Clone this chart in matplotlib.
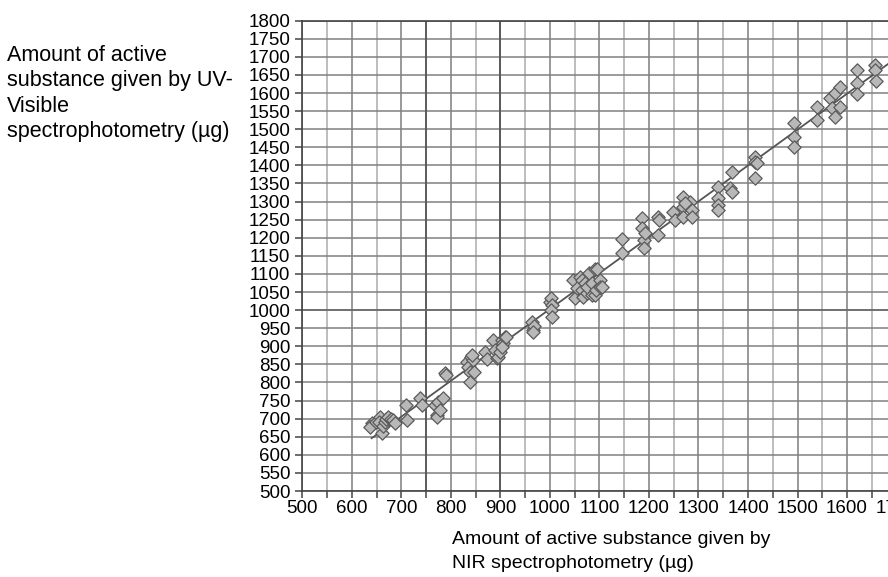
import numpy as np
import matplotlib.pyplot as plt
from matplotlib.ticker import MultipleLocator

plt.rcParams['font.family'] = ['Liberation Sans', 'DejaVu Sans']

# NIR result (x) vs UV-Visible result (y), in micrograms
nir = [640, 637, 648, 657, 655, 660, 663, 667, 670, 674, 680, 684, 687,
       710, 711, 738, 741, 768, 771, 773, 775, 778, 785, 788, 790,
       832, 835, 839, 841, 845, 838, 842, 847, 869, 872, 886, 889, 893,
       895, 900, 903, 906, 909, 903, 911,
       963, 965, 967, 966, 1000, 1003, 1004, 1003, 1005,
       1047, 1050, 1054, 1060, 1064, 1064, 1067, 1070, 1074, 1074, 1078,
       1084, 1084, 1091, 1091, 1094, 1095, 1101, 1101, 1105,
       1145, 1145, 1185, 1185, 1189, 1189, 1192, 1219, 1221, 1219, 1249,
       1253, 1269, 1269, 1269, 1283, 1286, 1286, 1273,
       1340, 1340, 1340, 1340, 1364, 1367, 1367, 1414, 1414, 1414, 1418,
       1492, 1492, 1493, 1540, 1540, 1566, 1576, 1586, 1569, 1586, 1576,
       1620, 1621, 1620, 1656, 1657, 1658]
uv = [687, 678, 692, 705, 690, 660, 680, 692, 700, 705, 700, 696, 687,
      738, 696, 756, 738, 738, 710, 705, 747, 724, 756, 827, 820,
      857, 844, 830, 871, 862, 802, 876, 830, 885, 866, 917, 890, 867,
      871, 885, 917, 908, 926, 899, 925,
      968, 945, 955, 940, 1023, 1033, 1014, 1000, 982,
      1083, 1033, 1060, 1092, 1056, 1083, 1037, 1075, 1046, 1065, 1102,
      1074, 1042, 1115, 1042, 1056, 1115, 1083, 1065, 1065,
      1196, 1157, 1254, 1228, 1194, 1171, 1212, 1258, 1250, 1208, 1272,
      1249, 1314, 1286, 1258, 1300, 1277, 1258, 1295,
      1341, 1309, 1290, 1277, 1337, 1327, 1382, 1424, 1410, 1364, 1406,
      1516, 1479, 1452, 1562, 1525, 1585, 1599, 1617, 1558, 1562, 1535,
      1664, 1627, 1597, 1677, 1664, 1634]

# regression line y = a*x + b
fit_slope = 0.992
fit_intercept = 11
fit_start = 640

x_ticks = list(range(500, 1800, 100))
y_ticks = list(range(500, 1850, 50))

fig = plt.figure(figsize=(8.88, 5.77), dpi=100)
ax = fig.add_axes([302.3 / 888, 1 - 491 / 577, 643.8 / 888, 470.3 / 577])

ax.set_xlim(500, 1800)
ax.set_ylim(500, 1800)

ax.xaxis.set_minor_locator(MultipleLocator(50))
ax.set_xticks(x_ticks)
ax.set_yticks(y_ticks)

ax.grid(True, which='major', axis='x', color='#7d7d7d', lw=1.1)
ax.grid(True, which='minor', axis='x', color='#ababab', lw=1.1)
ax.grid(True, which='major', axis='y', color='#808080', lw=1.1)
for v in (750, 900):
    ax.axvline(v, color='#555555', lw=1.3, zorder=0.6)
ax.axhline(1000, color='#6a6a6a', lw=1.2, zorder=0.6)
ax.set_axisbelow(True)

for side in ('top', 'left', 'bottom'):
    ax.spines[side].set_color('#444444')
    ax.spines[side].set_linewidth(1.2)
ax.spines['right'].set_visible(False)

ax.tick_params(axis='both', which='both', direction='out', length=5,
               width=1.1, color='#444444', labelsize=13.5, pad=1.5)
ax.tick_params(axis='y', pad=3.5)

xs = np.array([fit_start, 1800])
ax.plot(xs, fit_slope * xs + fit_intercept, color='#555555', lw=1.3, zorder=2)
ax.scatter(nir, uv, marker='D', s=46, facecolor='#b8b8b8',
           edgecolor='#5a5a5a', linewidths=0.9, zorder=3)

fig.text(7 / 888, 1 - 45 / 577,
         'Amount of active\nsubstance given by UV-\nVisible\nspectrophotometry (µg)',
         ha='left', va='top', fontsize=15.5, linespacing=1.28)
fig.text(452 / 888, 1 - 531 / 577,
         'Amount of active substance given by\nNIR spectrophotometry (µg)',
         ha='left', va='top', fontsize=14, linespacing=1.5)

fig.savefig('out.png', dpi=100)
